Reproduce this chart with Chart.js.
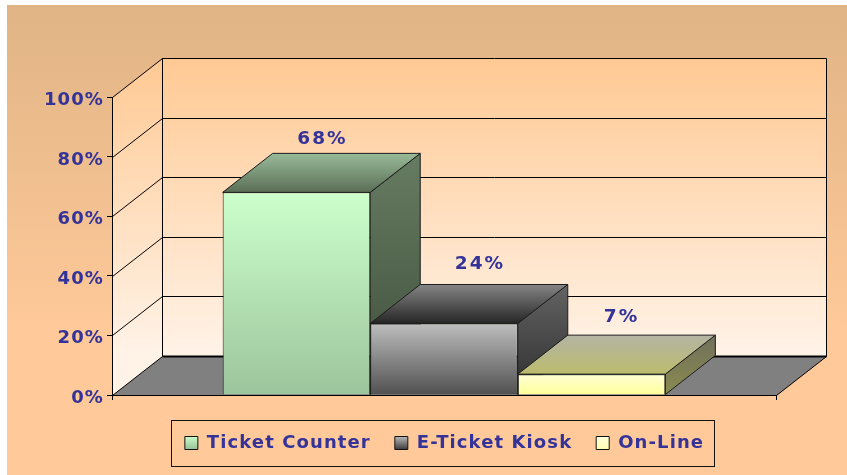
<!DOCTYPE html>
<html>
<head>
<meta charset="utf-8">
<style>html,body{margin:0;padding:0;background:#fff}canvas{display:block}</style>
<script src="https://cdn.jsdelivr.net/npm/chart.js@4"></script>
</head>
<body>
<canvas id="c" width="847" height="475"></canvas>
<script>
const categories = [''];
const seriesNames = ['Ticket Counter', 'E-Ticket Kiosk', 'On-Line'];
const ticketCounter = [68];
const eTicketKiosk = [24];
const onLine = [7];
const seriesValues = [ticketCounter, eTicketKiosk, onLine];
const tickValuesMax = 100;
const tickStep = 20;

const DEPTH_X = 50, DEPTH_Y = -39;
const TEXT = '#333399', LINE = '#000', FACE_LINE = '#1c1c1c';
const FONT = '"DejaVu Sans", Verdana, sans-serif';
const LS = '1.1px';

const palettes = [
  {front:['#CCFFCC','#9CC49C'], top:['#99BB99','#5A6E56'], side:['#667C62','#3E4E3A'], swatch:['#CCFFCC','#99C299']},
  {front:['#BEBEBE','#505050'], top:['#858585','#262626'], side:['#636363','#2E2E2E'], swatch:['#BEBEBE','#404040']},
  {front:['#FFFFD6','#FFFF99'], top:['#B4B4A4','#BCBC6C'], side:['#70705C','#8A8A50'], swatch:['#FFFFE0','#FFFFB0']}
];
// hand-placed data labels in the source: offset from the front-top centre of each bar
const labelShift = [{x:26,y:-53},{x:36,y:-59},{x:30,y:-57}];

function vGrad(ctx, y0, y1, pair){
  const g = ctx.createLinearGradient(0, y0, 0, y1);
  g.addColorStop(0, pair[0]); g.addColorStop(1, pair[1]);
  return g;
}
function poly(ctx, pts, fill, stroke, lw){
  ctx.beginPath();
  pts.forEach((p,i)=> i ? ctx.lineTo(p[0],p[1]) : ctx.moveTo(p[0],p[1]));
  ctx.closePath();
  if(fill){ctx.fillStyle=fill;ctx.fill();}
  if(stroke){ctx.strokeStyle=stroke;ctx.lineWidth=lw||1;ctx.stroke();}
}
function seg(ctx,x0,y0,x1,y1,w){
  ctx.beginPath();ctx.moveTo(x0,y0);ctx.lineTo(x1,y1);
  ctx.strokeStyle=LINE;ctx.lineWidth=w||1;ctx.stroke();
}

const scene3d = {
  id:'scene3d',
  beforeLayout(chart){ chart.ctx.letterSpacing = LS; },
  afterLayout(chart){
    const l = chart.legend;
    l.left = 111; l.right = 778; l.top += 10; l.bottom += 10;
  },
  beforeDraw(chart){
    const ctx = chart.ctx, a = chart.chartArea;
    ctx.letterSpacing = LS;
    ctx.save();
    ctx.fillStyle='#fff'; ctx.fillRect(0,0,chart.width,chart.height);
    ctx.fillStyle=vGrad(ctx,5,330,['#E0B485','#FFC999']);
    ctx.fillRect(7,5,chart.width-7,chart.height-5);

    const L=a.left+.5,R=a.right+.5,T=a.top+.5,B=a.bottom+.5;
    const wall=vGrad(ctx,T+DEPTH_Y,B+DEPTH_Y,['#FFC993','#FFF3E8']);
    poly(ctx,[[L+DEPTH_X,T+DEPTH_Y],[R+DEPTH_X,T+DEPTH_Y],[R+DEPTH_X,B+DEPTH_Y],[L+DEPTH_X,B+DEPTH_Y]],wall);
    poly(ctx,[[L,T],[L+DEPTH_X,T+DEPTH_Y],[L+DEPTH_X,B+DEPTH_Y],[L,B]],wall);
    poly(ctx,[[L,B],[L+DEPTH_X,B+DEPTH_Y],[R+DEPTH_X,B+DEPTH_Y],[R,B]],'#808080');

    chart.scales.y.ticks.forEach(t=>{
      const y=Math.round(chart.scales.y.getPixelForValue(t.value))+.5;
      seg(ctx,L,y,L+DEPTH_X,y+DEPTH_Y,1);
      seg(ctx,L+DEPTH_X,y+DEPTH_Y,R+DEPTH_X,y+DEPTH_Y,t.value===0?2:1);
    });
    seg(ctx,L+DEPTH_X,T+DEPTH_Y,L+DEPTH_X,B+DEPTH_Y,1);
    seg(ctx,R+DEPTH_X,T+DEPTH_Y,R+DEPTH_X,B+DEPTH_Y,1);
    seg(ctx,R,B,R+DEPTH_X,B+DEPTH_Y,1);

    ctx.fillStyle='#FFC999';
    ctx.fillRect(171.5,420.5,543,46);
    ctx.strokeStyle='#111';ctx.lineWidth=1;ctx.strokeRect(171.5,420.5,543,46);
    ctx.restore();
  },
  beforeDatasetDraw(){ return false; },
  afterDatasetsDraw(chart){
    const ctx=chart.ctx;
    ctx.save();
    seriesValues.forEach((vals,i)=>{
      const bar=chart.getDatasetMeta(i).data[0];
      const p=bar.getProps(['x','y','base','width'],true);
      const l=p.x-p.width/2,r=p.x+p.width/2,t=p.y,b=p.base;
      const pal=palettes[i];
      poly(ctx,[[r,t],[r+DEPTH_X,t+DEPTH_Y],[r+DEPTH_X,b+DEPTH_Y],[r,b]],
        vGrad(ctx,t+DEPTH_Y,b,pal.side),FACE_LINE,1);
      poly(ctx,[[l,t],[l+DEPTH_X,t+DEPTH_Y],[r+DEPTH_X,t+DEPTH_Y],[r,t]],
        vGrad(ctx,t+DEPTH_Y,t,pal.top),FACE_LINE,1);
      bar.draw(ctx);
    });
    seg(ctx,chart.chartArea.left,chart.chartArea.bottom+.5,chart.chartArea.right,chart.chartArea.bottom+.5,1);
    ctx.font='bold 18.5px '+FONT;
    ctx.fillStyle=TEXT;ctx.textAlign='center';ctx.textBaseline='middle';
    ctx.letterSpacing='2px';
    seriesValues.forEach((vals,i)=>{
      const bar=chart.getDatasetMeta(i).data[0];
      const p=bar.getProps(['x','y'],true);
      ctx.fillText(vals[0]+'%',p.x+labelShift[i].x,p.y+labelShift[i].y);
    });
    ctx.restore();
  }
};

new Chart(document.getElementById('c'),{
  type:'bar',
  data:{
    labels:categories,
    datasets:seriesNames.map((name,i)=>({
      label:name,
      data:seriesValues[i],
      backgroundColor(c){
        const ch=c.chart;
        if(!ch.chartArea) return palettes[i].front[0];
        const s=ch.scales.y;
        return vGrad(ch.ctx,s.getPixelForValue(seriesValues[i][0]),s.getPixelForValue(0),palettes[i].front);
      },
      borderColor:FACE_LINE,
      borderWidth:1
    }))
  },
  options:{
    responsive:false,
    animation:false,
    devicePixelRatio:1,
    events:[],
    categoryPercentage:2/3,
    barPercentage:1,
    layout:{padding:{left:0,right:71,top:97,bottom:23}},
    scales:{
      x:{
        afterFit(s){s.height=5;},
        grid:{offset:true,drawOnChartArea:false,color:LINE,tickLength:5,lineWidth:1},
        border:{color:LINE,width:1},
        ticks:{display:true,callback:()=>''}
      },
      y:{
        min:0,max:tickValuesMax,
        afterFit(s){s.width=112;},
        grid:{drawOnChartArea:false,color:LINE,tickLength:5,lineWidth:1},
        border:{color:LINE,width:1},
        ticks:{
          stepSize:tickStep,
          padding:3,
          color:TEXT,
          font:{family:FONT,size:18,weight:'bold',lineHeight:0.36},
          // blank first line nudges the label down a few pixels against its tick
          callback:v=>['',v+'%']
        }
      }
    },
    plugins:{
      tooltip:{enabled:false},
      legend:{
        position:'bottom',
        labels:{
          boxWidth:13,boxHeight:13,padding:24,color:TEXT,
          font:{family:FONT,size:18,weight:'bold'},
          generateLabels(chart){
            const base=Chart.defaults.plugins.legend.labels.generateLabels(chart);
            base.forEach((it,i)=>{
              it.fillStyle=vGrad(chart.ctx,436,449,palettes[i].swatch);
              it.strokeStyle='#111';it.lineWidth=1;
            });
            return base;
          }
        }
      }
    }
  },
  plugins:[scene3d]
});
</script>
</body>
</html>
